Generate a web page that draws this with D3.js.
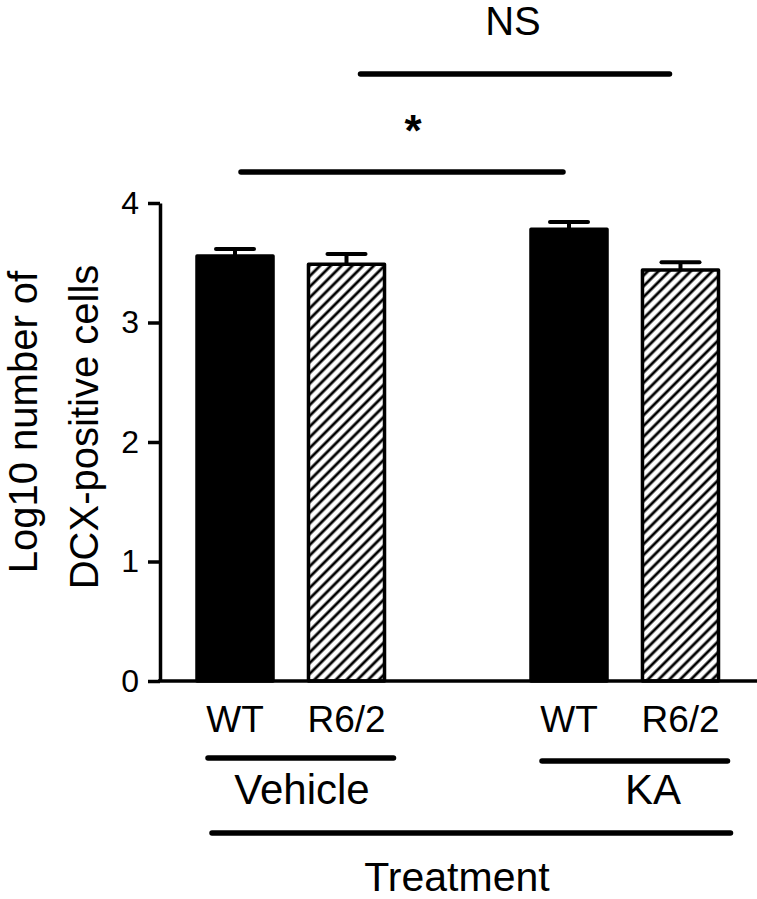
<!DOCTYPE html>
<html>
<head>
<meta charset="utf-8">
<script src="https://cdn.jsdelivr.net/npm/d3@7"></script>
<style>
  html, body { margin: 0; padding: 0; background: #fff; }
  svg { display: block; }
  text { font-family: "Liberation Sans", Arial, Helvetica, sans-serif; fill: #000; }
</style>
</head>
<body>
<svg id="chart" width="757" height="899"></svg>
<script>
// ---- data ----
const groups = ["Vehicle", "KA"];
const genotypes = ["WT", "R6/2"];
const means = [3.556, 3.487, 3.780, 3.439];   // Vehicle-WT, Vehicle-R6/2, KA-WT, KA-R6/2
const errors = [0.060, 0.086, 0.061, 0.065];
const yTicks = [0, 1, 2, 3, 4];
const yLabelLines = ["Log10 number of", "DCX-positive cells"];
const xTitle = "Treatment";
const sigLabels = ["*", "NS"];

const rows = [];
groups.forEach((g, gi) => genotypes.forEach((t, ti) => {
  const i = gi * genotypes.length + ti;
  rows.push({ group: g, geno: t, mean: means[i], err: errors[i] });
}));

const svg = d3.select("#chart");

// ---- scales ----
const y = d3.scaleLinear().domain([0, 4]).range([681, 203]);
const xOuter = d3.scaleBand().domain(groups).range([197, 718.5]).paddingInner(0.4386).paddingOuter(0);
const xInner = d3.scaleBand().domain(genotypes).range([0, xOuter.bandwidth()]).paddingInner(0.318).paddingOuter(0);
const xPos = d => xOuter(d.group) + xInner(d.geno);
const xMid = d => xPos(d) + xInner.bandwidth() / 2;

// hatch pattern
const defs = svg.append("defs");
defs.append("pattern")
  .attr("id", "hatch")
  .attr("patternUnits", "userSpaceOnUse")
  .attr("width", 7.6).attr("height", 7.6)
  .attr("patternTransform", "rotate(45)")
  .append("line")
  .attr("x1", 3.8).attr("y1", -1).attr("x2", 3.8).attr("y2", 9)
  .attr("stroke", "#000").attr("stroke-width", 2.8);

// ---- y axis ----
const yAxis = d3.axisLeft(y).tickValues(yTicks).tickFormat(d3.format("d")).tickSize(12).tickSizeOuter(0).tickPadding(9);
const gy = svg.append("g").attr("transform", "translate(160,0)").call(yAxis);
gy.select(".domain").attr("stroke", "#000").attr("stroke-width", 3.5);
gy.selectAll(".tick line").attr("stroke", "#000").attr("stroke-width", 3.5);
gy.selectAll(".tick text").style("font-size", "32px").attr("fill", "#000")
  .style("font-family", '"Liberation Sans", Arial, sans-serif');

// x baseline
svg.append("line")
  .attr("x1", 158).attr("x2", 757)
  .attr("y1", y(0)).attr("y2", y(0))
  .attr("stroke", "#000").attr("stroke-width", 3.5);

// ---- bars ----
svg.append("g").selectAll("rect")
  .data(rows).join("rect")
  .attr("x", d => xPos(d))
  .attr("y", d => y(d.mean))
  .attr("width", xInner.bandwidth())
  .attr("height", d => y(0) - y(d.mean))
  .attr("fill", d => d.geno === "WT" ? "#000" : "url(#hatch)")
  .attr("stroke", "#000")
  .attr("stroke-width", 3.5)
  .attr("stroke-linejoin", "round");

// ---- error bars ----
const eb = svg.append("g").attr("stroke", "#000").attr("stroke-width", 4);
eb.selectAll("line.v").data(rows).join("line").attr("class", "v")
  .attr("x1", d => xMid(d)).attr("x2", d => xMid(d))
  .attr("y1", d => y(d.mean)).attr("y2", d => y(d.mean + d.err));
eb.selectAll("line.c").data(rows).join("line").attr("class", "c")
  .attr("x1", d => xMid(d) - xInner.bandwidth() / 4)
  .attr("x2", d => xMid(d) + xInner.bandwidth() / 4)
  .attr("y1", d => y(d.mean + d.err)).attr("y2", d => y(d.mean + d.err))
  .attr("stroke-linecap", "round");

// ---- category labels ----
svg.append("g").selectAll("text")
  .data(rows).join("text")
  .attr("x", d => xMid(d))
  .attr("y", 732)
  .attr("text-anchor", "middle")
  .style("font-size", "37px")
  .text(d => d.geno);

// group underlines and labels
const lineStyle = sel => sel.attr("stroke", "#000").attr("stroke-width", 5.5).attr("stroke-linecap", "round");
const grpLineY = [758, 761];
const grpLabelX = [302, 653];
groups.forEach((g, gi) => {
  const x0 = xOuter(g), x1 = xOuter(g) + xOuter.bandwidth();
  svg.append("line").call(lineStyle)
    .attr("x1", x0 + 11).attr("x2", x1 + 9)
    .attr("y1", grpLineY[gi]).attr("y2", grpLineY[gi]);
  svg.append("text")
    .attr("x", grpLabelX[gi]).attr("y", 804)
    .attr("text-anchor", "middle")
    .style("font-size", "42px")
    .text(g);
});

// Treatment line + title
svg.append("line").call(lineStyle)
  .attr("x1", xOuter(groups[0]) + 15)
  .attr("x2", xOuter(groups[1]) + xOuter.bandwidth() + 12)
  .attr("y1", 833).attr("y2", 833);
svg.append("text")
  .attr("x", 457).attr("y", 891)
  .attr("text-anchor", "middle")
  .style("font-size", "41px")
  .text(xTitle);

// ---- significance annotations ----
// lower: Vehicle-WT vs KA-WT
svg.append("line").call(lineStyle)
  .attr("x1", xMid(rows[0]) + 6).attr("x2", xMid(rows[2]) - 6)
  .attr("y1", 172).attr("y2", 172);
svg.append("text")
  .attr("x", 413).attr("y", 146)
  .attr("text-anchor", "middle")
  .style("font-size", "44px").style("font-weight", "bold")
  .text(sigLabels[0]);
// upper: Vehicle-R6/2 vs KA-R6/2
svg.append("line").call(lineStyle)
  .attr("x1", xMid(rows[1]) + 14).attr("x2", xMid(rows[3]) - 11)
  .attr("y1", 74).attr("y2", 74);
svg.append("text")
  .attr("x", 513).attr("y", 35)
  .attr("text-anchor", "middle")
  .style("font-size", "40px")
  .text(sigLabels[1]);

// ---- y label ----
const yl = svg.append("g");
yl.append("text").attr("transform", "translate(37,422) rotate(-90)")
  .attr("text-anchor", "middle").style("font-size", "40px").text(yLabelLines[0]);
yl.append("text").attr("transform", "translate(98,427) rotate(-90)")
  .attr("text-anchor", "middle").style("font-size", "40px").text(yLabelLines[1]);
</script>
</body>
</html>
